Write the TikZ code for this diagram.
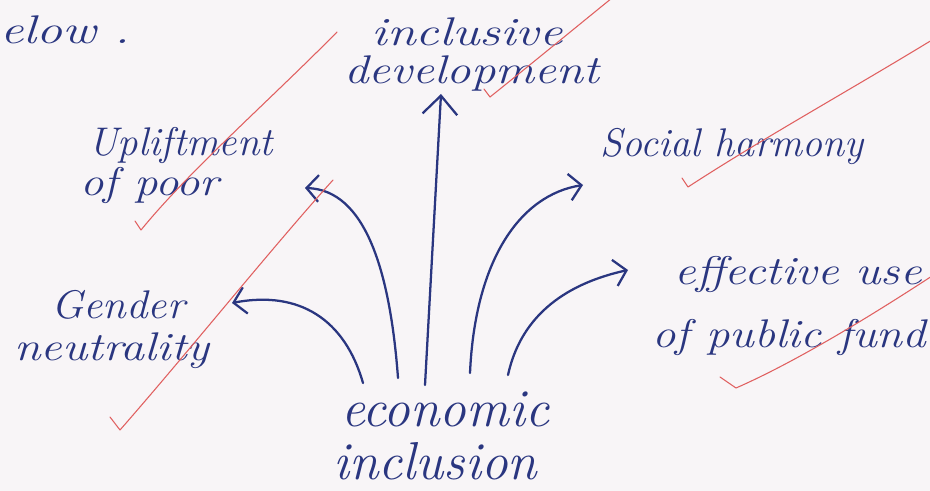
\documentclass[tikz,border=0pt]{standalone}
\usepackage{fontspec}
\usepackage{graphicx}
\usetikzlibrary{arrows.meta}
\definecolor{ink}{RGB}{42,54,128}
\definecolor{redink}{RGB}{224,96,96}
\definecolor{paper}{RGB}{248,245,247}
\newcommand\hw[2]{\scalebox{#1}[1]{#2}}
\tikzset{
  hand/.style={text=ink, font=\fontsize{30}{34}\selectfont\itshape, inner sep=0pt},
  bighand/.style={text=ink, font=\fontsize{40}{44}\selectfont\itshape, inner sep=0pt},
  link/.style={draw=ink, line width=1.7pt, line cap=round,
    -{Straight Barb[length=9pt,width=20pt,line width=1.7pt]}},
  uplink/.style={link, -{Straight Barb[length=14pt,width=26pt,line width=1.7pt]}},
  tick/.style={draw=redink, line width=0.8pt, line cap=round, line join=round},
}
\begin{document}
\begin{tikzpicture}[x=0.75pt,y=-0.75pt]
  \fill[paper] (0,0) rectangle (930,491);
  \clip (0,0) rectangle (930,491);

  % texts
  \node[hand, anchor=base west] (below) at (0,44) {\hw{1.3}{elow .}};
  \node[hand, anchor=base] (incl) at (467,46) {\hw{1.3}{inclusive}};
  \node[hand, anchor=base] (dev) at (472,84) {\hw{1.22}{development}};
  \node[hand, anchor=base west] (upl) at (88,156) {\hw{1.02}{Upliftment}};
  \node[hand, anchor=base west] (poor) at (80,196) {\hw{1.17}{of poor}};
  \node[hand, anchor=base] (soc) at (732,157) {\hw{1.0}{Social harmony}};
  \node[hand, anchor=base] (gen) at (118,318) {\hw{1.07}{Gender}};
  \node[hand, anchor=base] (neu) at (112,360) {\hw{1.2}{neutrality}};
  \node[hand, anchor=base] (eff) at (798,285) {\hw{1.2}{effective use}};
  \node[hand, anchor=base west] (pub) at (652,347) {\hw{1.17}{of public fund}};
  \node[bighand, anchor=base] (eco) at (445,426) {economic};
  \node[bighand, anchor=base] (inc) at (435,479) {inclusion};

  % connector ends
  \coordinate (s1) at (363,383);
  \coordinate (s2) at (398,378);
  \coordinate (s3) at (425,385);
  \coordinate (s4) at (470,373);
  \coordinate (s5) at (508,375);
  \coordinate (t1) at (232,303);
  \coordinate (t2) at (305,188);
  \coordinate (t3) at (441,94);
  \coordinate (t4) at (583,185);
  \coordinate (t5) at (628,270);

  % arrows
  \draw[link] (s1) .. controls (345,320) and (300,290) .. (t1);
  \draw[link] (s2) .. controls (390,270) and (365,190) .. (t2);
  \draw[uplink] (s3) -- (t3);
  \draw[link] (s4) .. controls (475,260) and (520,195) .. (t4);
  \draw[link] (s5) .. controls (520,320) and (560,285) .. (t5);

  % red tick marks
  \draw[tick] (135,221) -- (141,230) .. controls (190,170) and (270,100) .. (337,32);
  \draw[tick] (484,89) -- (490,97) .. controls (530,65) and (575,28) .. (612,-2);
  \draw[tick] (682,178) -- (688,187) .. controls (760,140) and (850,90) .. (932,40);
  \draw[tick] (720,377) -- (736,388) .. controls (800,360) and (880,310) .. (932,276);
  \draw[tick] (110,417) -- (120,430) .. controls (190,350) and (270,250) .. (333,180);
\end{tikzpicture}
\end{document}
